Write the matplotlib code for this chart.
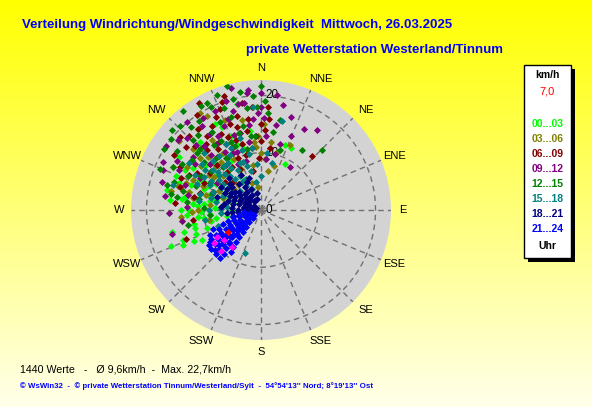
import numpy as np
import matplotlib
matplotlib.use('Agg')
import matplotlib.pyplot as plt
from matplotlib.patches import Rectangle

plt.rcParams['font.family'] = ['Liberation Sans', 'DejaVu Sans']

# wind points per 3-hour block: (direction in degrees, speed in km/h)
pts_00_03 = [(282, 16.7), (268, 16), (249, 14.6), (245, 13), (243, 11.5), (255, 12), (262, 10), (275, 12),
             (280, 9), (285, 11), (290, 13), (295, 10), (300, 12), (305, 8), (298, 15), (288, 7), (272, 8),
             (265, 7), (258, 9), (252, 10), (278, 14), (292, 16), (303, 17), (310, 14), (315, 11), (320, 9),
             (312, 7), (300, 6), (285, 5), (270, 5), (260, 6), (325, 13), (335, 16), (340, 12), (347, 19),
             (352, 14), (20, 12), (26, 12), (28, 9), (330, 6), (308, 10), (294, 8), (276, 10), (266, 13),
             (256, 16), (248, 17), (318, 16), (284, 13), (290, 10.5), (280, 11.5), (270, 12.5), (262, 14),
             (296, 12), (302, 14), (288, 15), (276, 16), (270, 14), (264, 11), (258, 12), (250, 12), (246, 15),
             (254, 14), (282, 8), (292, 6), (306, 13), (314, 15), (322, 12), (328, 10), (286, 9.5), (274, 11),
             (266, 9), (300, 9), (308, 12.5), (296, 11), (280, 13.5), (268, 10.5), (260, 8), (338, 14),
             (344, 11), (332, 17)]
pts_03_06 = [(310, 18.8), (328, 20), (15, 10.5), (24, 12.4), (259, 9.3), (300, 12), (305, 10), (315, 13),
             (320, 11), (325, 15), (335, 12), (340, 9), (345, 14), (350, 8), (355, 11), (5, 9), (10, 7),
             (330, 7), (318, 6), (295, 8), (285, 10), (290, 14), (280, 12), (270, 11), (265, 14), (312, 16),
             (322, 18), (338, 17), (348, 16), (358, 13), (2, 15), (332, 10), (308, 6), (300, 4), (275, 7),
             (342, 5), (352, 4), (17, 8), (296, 17), (286, 15), (306, 13), (314, 11), (324, 9), (336, 14),
             (344, 12), (300, 15), (292, 11), (284, 13), (276, 9), (268, 12), (316, 15), (326, 12), (334, 8),
             (346, 10), (354, 12), (0, 10), (8, 12), (312, 9), (304, 11), (294, 13), (282, 16), (320, 17),
             (330, 19), (288, 7), (310, 14)]
pts_06_09 = [(342, 20.9), (330, 21.6), (43, 13), (286, 14.7), (249, 14), (320, 15), (325, 13), (330, 17),
             (335, 12), (340, 16), (345, 10), (350, 14), (355, 18), (0, 12), (5, 16), (338, 19), (328, 11),
             (322, 18), (318, 9), (312, 12), (305, 15), (300, 13), (295, 11), (290, 9), (310, 17), (315, 7),
             (333, 8), (348, 7), (352, 11), (358, 9), (3, 14), (326, 20), (336, 14), (344, 12), (316, 11),
             (308, 8), (298, 16), (281, 12), (275, 15), (262, 12), (8, 11), (318, 14), (324, 16), (332, 15),
             (340, 13), (346, 17), (352, 16), (0, 15), (356, 13), (328, 14), (336, 10), (344, 15), (312, 19),
             (306, 11), (296, 14), (286, 11), (320, 12), (334, 18), (350, 19), (4, 18), (326, 9), (314, 16),
             (302, 18), (292, 15), (340, 20), (316, 18)]
pts_09_12 = [(35, 17), (34, 9), (12, 18.7), (351, 18.9), (292, 18.5), (268, 16), (346, 22), (8, 20.3),
             (353, 20.6), (340, 17), (335, 19), (330, 15), (325, 18), (320, 20), (315, 16), (310, 19),
             (305, 14), (300, 17), (345, 14), (350, 12), (355, 16), (0, 18), (4, 13), (10, 15), (16, 12),
             (22, 14), (28, 16), (338, 11), (328, 12), (318, 13), (298, 12), (288, 14), (278, 17), (272, 13),
             (262, 14), (255, 16), (343, 9), (333, 9), (6, 9), (14, 10), (322, 10), (302, 9), (336, 16),
             (344, 18), (352, 15), (358, 17), (2, 16), (326, 16), (332, 13), (314, 18), (308, 15), (296, 16),
             (286, 18), (282, 13), (318, 15), (340, 14), (348, 19), (354, 21), (342, 20), (328, 19), (304, 20),
             (0, 20.5), (18, 17), (312, 12), (334, 11), (326, 14), (296, 19)]
pts_12_15 = [(344.5, 22.5), (0, 21.6), (45.5, 15), (34, 12.7), (302, 20), (339, 21.5), (333, 20.9),
             (316, 20.4), (279, 14.8), (9, 13.8), (325, 19), (320, 17), (315, 15), (310, 13), (305, 18),
             (300, 16), (295, 14), (290, 12), (285, 17), (330, 14), (335, 17), (340, 19), (348, 15), (352, 18),
             (356, 20), (4, 17), (12, 16), (18, 11), (326, 11), (318, 10), (308, 11), (298, 10), (288, 9),
             (280, 11), (272, 10), (264, 9), (258, 13), (338, 12), (347, 11), (355, 13), (312, 21), (322, 22),
             (328, 16), (334, 20), (342, 17), (350, 21), (358, 18), (2, 19), (316, 17), (306, 15), (296, 17),
             (292, 19), (284, 14), (276, 13), (320, 19), (312, 15), (336, 13), (344, 14), (352, 13), (324, 14),
             (300, 12), (288, 16), (308, 20), (330, 21), (346, 20), (318, 12), (280, 16)]
pts_15_18 = [(355.5, 18), (13, 16), (13, 8.4), (200, 8), (286, 16), (300, 10), (305, 8), (310, 11), (315, 9),
             (320, 7), (325, 10), (330, 8), (335, 6), (340, 9), (345, 7), (350, 5), (355, 8), (0, 6),
             (312, 5), (318, 4), (302, 6), (295, 7), (290, 9), (285, 11), (280, 8), (275, 6), (270, 9),
             (265, 7), (308, 13), (322, 12), (332, 13), (342, 11), (298, 13), (292, 12), (328, 5), (338, 4),
             (315, 14), (303, 15), (260, 10), (250, 8), (6, 10), (306, 9), (312, 10), (318, 8), (324, 9),
             (330, 11), (336, 9), (342, 8), (348, 10), (298, 8), (290, 7), (284, 9), (278, 11), (272, 7),
             (300, 11.5), (310, 9.5), (320, 10), (328, 7), (334, 12), (344, 13), (352, 11), (296, 10),
             (306, 12), (316, 12), (326, 6), (304, 7)]
pts_18_21 = [(290, 2), (295, 3), (300, 4), (305, 3), (310, 5), (315, 4), (320, 6), (325, 5), (330, 3),
             (335, 4), (340, 6), (345, 3), (285, 4), (280, 3), (275, 5), (270, 4), (265, 5), (260, 3),
             (255, 4), (270, 2), (280, 1.5), (300, 1.5), (320, 2), (310, 7), (300, 6), (290, 5), (300, 8),
             (315, 8), (295, 7), (285, 6), (275, 7), (265, 6), (262, 1), (250, 2), (340, 2), (330, 7),
             (305, 5.5), (312, 2.5), (288, 2.5), (276, 3), (292, 4), (298, 2.5), (306, 4.5), (318, 3),
             (326, 2), (334, 5.5), (296, 5), (282, 5), (272, 3), (266, 4), (258, 5), (302, 7), (286, 8),
             (308, 6.5), (322, 4), (280, 6.5), (294, 6), (310, 3.5), (268, 2.8), (290, 1)]
pts_21_24 = [(230, 2), (232, 3), (228, 4), (235, 5), (225, 6), (230, 7), (238, 6), (222, 8), (228, 9),
             (233, 10), (229, 10.6), (240, 8), (245, 4), (250, 3), (255, 2), (240, 2), (220, 5), (218, 7),
             (215, 9), (224, 10), (236, 9), (242, 7), (226, 3), (233, 1.5), (245, 6), (250, 5), (238, 4),
             (232, 8), (220, 10), (226, 11), (236, 11), (248, 9), (258, 4), (262, 3), (240, 10), (230, 5.5),
             (225, 8), (235, 7.5), (229, 5), (234, 6), (227, 7), (231, 8.5), (236, 8), (241, 9), (244, 10),
             (238, 10.5), (232, 11), (227, 10), (223, 9), (219, 6), (217, 8), (222, 4), (227, 2), (236, 3),
             (242, 5), (246, 8), (250, 7), (252, 6), (256, 5), (248, 3), (234, 4.5), (230, 9.5), (240, 6.5),
             (228, 6.5), (225, 4.5), (237, 2.5), (244, 2.5), (221, 11)]
pts_last = [(235, 10), (224, 10), (218, 8.2), (231, 8.4), (238, 9)]
pt_now = [(236, 7.0)]

blocks = [pts_00_03, pts_03_06, pts_06_09, pts_09_12, pts_12_15, pts_15_18, pts_18_21, pts_21_24]
block_labels = ['00...03', '03...06', '06...09', '09...12', '12...15', '15...18', '18...21', '21...24']
block_colors = ['#00FF00', '#808000', '#800000', '#800080', '#008000', '#008080', '#000080', '#0000FF']

directions = ['N', 'NNE', 'NE', 'ENE', 'E', 'ESE', 'SE', 'SSE',
              'S', 'SSW', 'SW', 'WSW', 'W', 'WNW', 'NW', 'NNW']
rings = [10, 20]
r_max = 22.7

W, H = 592, 407
cx, cy, rad = 261, 210, 130

fig = plt.figure(figsize=(W / 100, H / 100), dpi=100)

# background, pixel coordinates
bg = fig.add_axes([0, 0, 1, 1], zorder=0)
bg.set_xlim(0, W)
bg.set_ylim(H, 0)
bg.axis('off')
grad = np.zeros((H, 1, 3))
grad[:, 0, 0] = 1.0
grad[:, 0, 1] = 1.0
grad[:, 0, 2] = np.linspace(0.0, 0.92, H)
bg.imshow(grad, extent=[0, W, H, 0], aspect='auto', interpolation='bilinear')

ax = fig.add_axes([(cx - rad) / W, (H - cy - rad) / H, 2 * rad / W, 2 * rad / H],
                  projection='polar', zorder=2)
ax.set_theta_zero_location('N')
ax.set_theta_direction(-1)
ax.set_ylim(0, r_max)
ax.set_facecolor('#D3D3D3')
ax.grid(False)
ax.set_xticks([])
ax.set_yticks([])
ax.spines['polar'].set_visible(False)

th = np.linspace(0, 2 * np.pi, 361)
for r in rings:
    ax.plot(th, np.full_like(th, r), color='#707070', lw=1, ls=(0, (4, 3)), zorder=1)
for i in range(16):
    a = np.radians(i * 22.5)
    ax.plot([a, a], [0, r_max], color='#707070', lw=1, ls=(0, (4, 3)), zorder=1)

for r in [0] + rings:
    ax.annotate(str(r), xy=(0, r), xytext=(3, 0), textcoords='offset points',
                ha='left', va='center', fontsize=8.5, color='black', zorder=1.5)

ms = 3.0
for pts, c in zip(blocks, block_colors):
    d, s = np.array(pts).T
    ax.plot(np.radians(d), s, 'D', ms=ms, mew=0.6, color=c, mec=c, ls='none', zorder=3)
d, s = np.array(pts_last).T
ax.plot(np.radians(d), s, 'D', ms=ms, mew=0.6, color='#FF00FF', mec='#FF00FF', ls='none', zorder=3)
d, s = np.array(pt_now).T
ax.plot(np.radians(d), s, 'D', ms=ms, mew=0.6, color='#FF0000', mec='#FF0000', ls='none', zorder=3)

# compass labels
for i, lab in enumerate(directions):
    a = np.radians(i * 22.5)
    x = cx + 142 * np.sin(a) + 6 * np.sign(np.round(np.sin(a), 3)) * abs(np.cos(a))
    y = cy - 142 * np.cos(a)
    bg.text(x, y, lab, ha='center', va='center', fontsize=8, color='black')

# titles
bg.text(22, 25, 'Verteilung Windrichtung/Windgeschwindigkeit  Mittwoch, 26.03.2025',
        ha='left', va='center', fontsize=9.5, fontweight='bold', color='#0000FF')
bg.text(503, 50, 'private Wetterstation Westerland/Tinnum',
        ha='right', va='center', fontsize=9.5, fontweight='bold', color='#0000FF')

# legend box
bg.add_patch(Rectangle((528, 69), 47, 193, facecolor='black', edgecolor='none'))
bg.add_patch(Rectangle((524, 65), 47, 193, facecolor='white', edgecolor='black', lw=1))
bx = 547.5
bg.text(bx, 75, 'km/h', ha='center', va='center', fontsize=7.5, fontweight='bold', color='black')
bg.text(bx, 91, '7,0', ha='center', va='center', fontsize=8, color='#FF0000')
for k, (lab, c) in enumerate(zip(block_labels, block_colors)):
    bg.text(bx, 124 + k * 15, lab, ha='center', va='center', fontsize=7.5, fontweight='bold', color=c)
bg.text(bx, 246, 'Uhr', ha='center', va='center', fontsize=7.5, fontweight='bold', color='black')

# footer
bg.text(20, 369, '1440 Werte   -   Ø 9,6km/h  -  Max. 22,7km/h',
        ha='left', va='center', fontsize=7.7, color='black')
bg.text(20, 386, "© WsWin32  -  © private Wetterstation Tinnum/Westerland/Sylt  -  54°54'13'' Nord; 8°19'13'' Ost",
        ha='left', va='center', fontsize=5.7, fontweight='bold', color='#0000FF')

fig.savefig('out.png', dpi=100)
